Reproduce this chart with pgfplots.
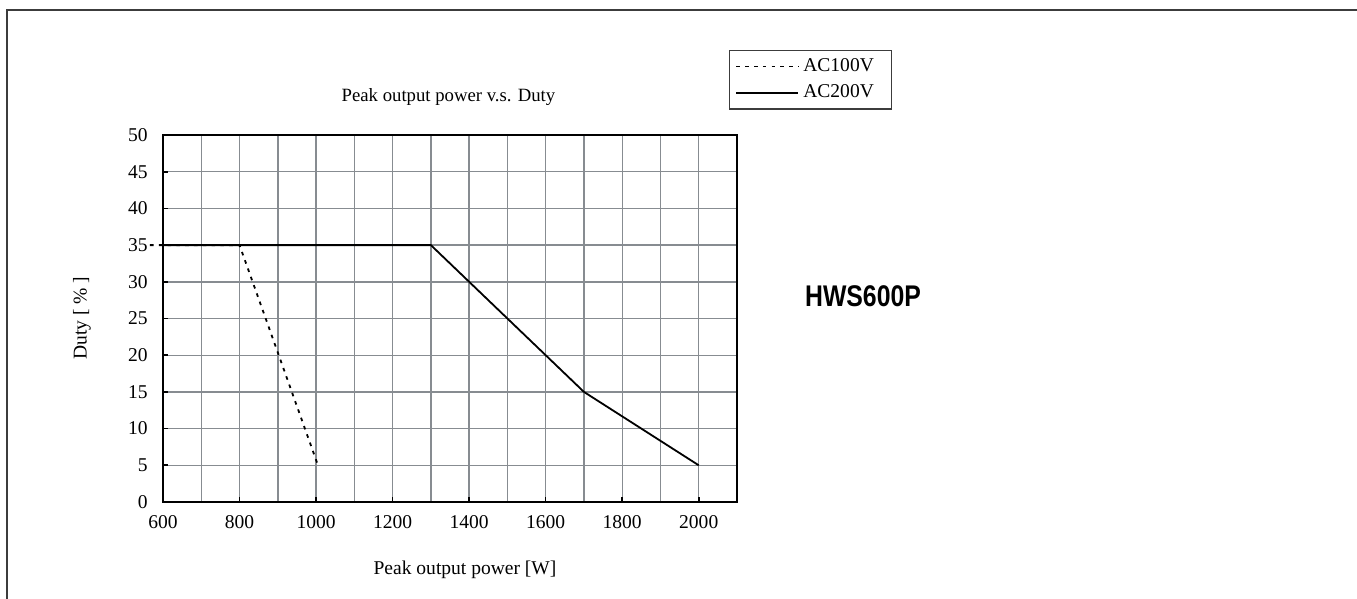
\documentclass[border=0pt]{standalone}
\usepackage{fontspec}
\setmainfont{Liberation Serif}
\newfontfamily\hfont{Liberation Sans}
\usepackage{pgfplots}
\pgfplotsset{compat=1.18}
\definecolor{gridgray}{RGB}{135,140,145}
\definecolor{framegray}{RGB}{60,60,60}
\begin{document}
\begin{tikzpicture}[font=\fontsize{9.8}{11}\selectfont]
\useasboundingbox (0,0) rectangle (678.5bp,299.5bp);
% outer frame (open at right and bottom)
\draw[framegray, line width=1bp] (3.5bp,0) -- (3.5bp,294.5bp) -- (678.5bp,294.5bp);
\begin{axis}[
  at={(81.5bp,48.5bp)}, anchor=south west,
  scale only axis, width=287bp, height=183.5bp,
  xmin=600, xmax=2100, ymin=0, ymax=50,
  clip=false,
  xtick={600,800,...,2000},
  minor xtick={700,900,...,2100},
  ytick={0,5,...,50},
  grid=both,
  grid style={gridgray, line width=0.7bp},
  minor grid style={gridgray, line width=0.7bp},
  axis line style={black, line width=1bp},
  tick align=inside,
  major tick length=2.5bp, minor tick length=0pt,
  tick style={black, line width=0.8bp},
  xtick pos=bottom, ytick pos=left,
  /pgf/number format/assume math mode=true,
  /pgf/number format/set thousands separator={},
  ticklabel style={font=\fontsize{9.8}{11}\selectfont},
  xticklabel style={yshift=-3.1bp},
  yticklabel style={xshift=-4.2bp},
  legend style={at={(0.986,1.2316)}, anchor=north west, draw=framegray, line width=0.6bp,
    inner xsep=3bp, inner ysep=2bp, row sep=1.2bp, font=\fontsize{9.8}{11}\selectfont,
    text width=39bp, cells={anchor=west}},
  legend cell align=left,
  legend image code/.code={\draw[#1] (0bp,0bp) -- (31bp,0bp);},
]
\addplot[black, line width=0.9bp, dash pattern=on 1.8bp off 2.6bp] coordinates {
(566,35) (800,35) (1005,5)
};
\addlegendentry{AC100V}
\addplot[black, line width=0.9bp] coordinates {
(600,35) (1300,35) (1400,30) (1500,25) (1600,20) (1700,15) (2000,5)
};
\addlegendentry{AC200V}
\end{axis}
\node[font=\fontsize{9.4}{11}\selectfont] at (224.25bp,251bp) {Peak output power v.s. Duty};
\node at (232.5bp,14.5bp) {Peak output power [W]};
\node[rotate=90] at (41bp,140.5bp) {Duty [ \% ]};
\node at (431.5bp,151.5bp) {\scalebox{0.83}[1]{\hfont\fontsize{15}{18}\selectfont\bfseries HWS600P}};
\end{tikzpicture}
\end{document}
